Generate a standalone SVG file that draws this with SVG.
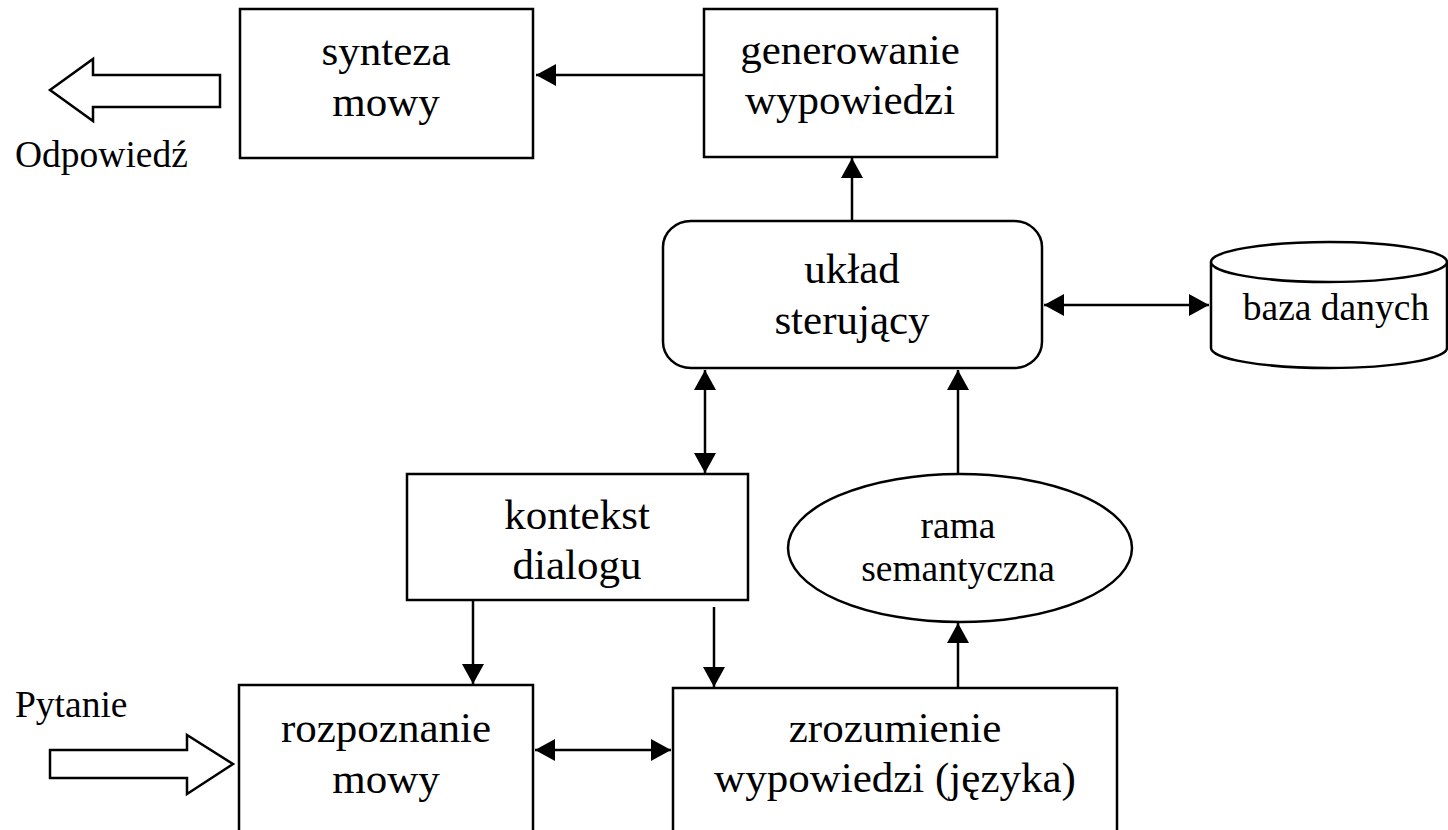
<svg xmlns="http://www.w3.org/2000/svg" width="1448" height="830" viewBox="0 0 1448 830" font-family="Liberation Serif, serif">
<style>
.box{fill:#fff;stroke:#000;stroke-width:2.5}
.hollow{fill:#fff;stroke:#000;stroke-width:2.5;stroke-linejoin:miter}
.ln{fill:none;stroke:#000;stroke-width:2.5}
text{font-family:'Liberation Serif',serif;fill:#000}
.t{font-size:43px;text-anchor:middle}
.s{font-size:37.5px}
.sm{text-anchor:middle}
</style>
<defs>
<marker id="ah" viewBox="0 0 20 22" refX="20" refY="11" markerWidth="20" markerHeight="22" markerUnits="userSpaceOnUse" orient="auto-start-reverse">
<path d="M0,0 L20,11 L0,22 z" fill="#000"/>
</marker>
</defs>
<rect width="1448" height="830" fill="#fff"/>

<g id="connectors">
<line class="ln" x1="704" y1="75" x2="536" y2="75" marker-end="url(#ah)"/>
<line class="ln" x1="852" y1="221" x2="852" y2="158" marker-end="url(#ah)"/>
<line class="ln" x1="1044" y1="305" x2="1209" y2="305" marker-start="url(#ah)" marker-end="url(#ah)"/>
<line class="ln" x1="705" y1="370" x2="705" y2="473" marker-start="url(#ah)" marker-end="url(#ah)"/>
<line class="ln" x1="958" y1="474" x2="958" y2="370" marker-end="url(#ah)"/>
<line class="ln" x1="958" y1="688" x2="958" y2="623" marker-end="url(#ah)"/>
<line class="ln" x1="473" y1="600" x2="473" y2="684" marker-end="url(#ah)"/>
<line class="ln" x1="714" y1="607" x2="714" y2="687" marker-end="url(#ah)"/>
<line class="ln" x1="535" y1="750" x2="671" y2="750" marker-start="url(#ah)" marker-end="url(#ah)"/>
</g>

<g id="out-arrow">
<polygon class="hollow" points="50,90 93,59 93,75 220,75 220,107 93,107 93,121"/>
<text class="s" x="15" y="167" font-family="Liberation Serif, serif">Odpowiedź</text>
</g>

<g id="in-arrow">
<polygon class="hollow" points="50,750 187,750 187,735 233,764 187,794 187,778 50,778"/>
<text class="s" x="15" y="717" font-family="Liberation Serif, serif">Pytanie</text>
</g>

<g id="synteza">
<rect class="box" x="240" y="9" width="293" height="149"/>
<text class="t" x="386" y="65" font-family="Liberation Serif, serif">synteza</text>
<text class="t" x="386" y="116" font-family="Liberation Serif, serif">mowy</text>
</g>

<g id="generowanie">
<rect class="box" x="704" y="9" width="293" height="148"/>
<text class="t" x="850" y="64" font-family="Liberation Serif, serif">generowanie</text>
<text class="t" x="850" y="114" font-family="Liberation Serif, serif">wypowiedzi</text>
</g>

<g id="uklad">
<rect class="box" x="663" y="221" width="379" height="147" rx="28" ry="26"/>
<text class="t" x="852" y="283" font-family="Liberation Serif, serif">układ</text>
<text class="t" x="852" y="334" font-family="Liberation Serif, serif">sterujący</text>
</g>

<g id="baza">
<path class="box" d="M1211,262 L1211,348 A118,20 0 0 0 1447,348 L1447,262"/>
<ellipse class="box" cx="1329" cy="262" rx="118" ry="20"/>
<text class="s sm" x="1336" y="320" font-family="Liberation Serif, serif">baza danych</text>
</g>

<g id="kontekst">
<rect class="box" x="407" y="474" width="341" height="126"/>
<text class="t" x="577" y="529" font-family="Liberation Serif, serif">kontekst</text>
<text class="t" x="577" y="579" font-family="Liberation Serif, serif">dialogu</text>
</g>

<g id="rama">
<ellipse class="box" cx="960" cy="548" rx="172" ry="74"/>
<text class="s sm" x="958" y="538" font-family="Liberation Serif, serif">rama</text>
<text class="s sm" x="958" y="581" font-family="Liberation Serif, serif">semantyczna</text>
</g>

<g id="rozpoznanie">
<rect class="box" x="239" y="685" width="294" height="160"/>
<text class="t" x="386" y="742" font-family="Liberation Serif, serif">rozpoznanie</text>
<text class="t" x="386" y="793" font-family="Liberation Serif, serif">mowy</text>
</g>

<g id="zrozumienie">
<rect class="box" x="673" y="688" width="444" height="160"/>
<text class="t" x="895" y="742" font-family="Liberation Serif, serif">zrozumienie</text>
<text class="t" x="895" y="792" font-family="Liberation Serif, serif">wypowiedzi (języka)</text>
</g>
</svg>
